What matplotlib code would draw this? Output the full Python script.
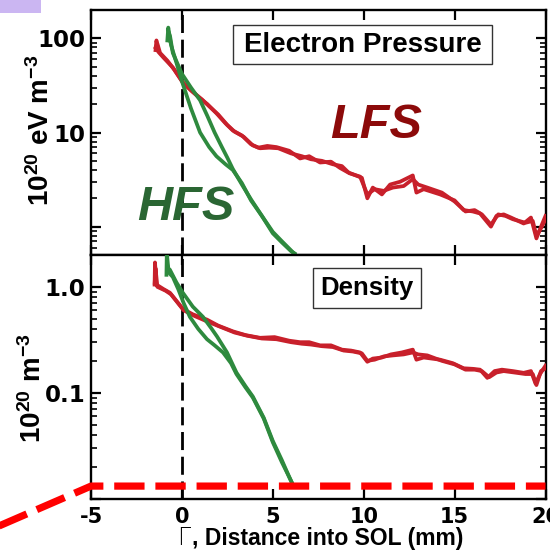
import matplotlib
matplotlib.use("Agg")
import matplotlib.pyplot as plt
from matplotlib.patches import Rectangle
from matplotlib.ticker import FixedLocator, FixedFormatter, LogLocator, NullFormatter

# ---------------- data ----------------
# Electron pressure (1e20 eV m^-3), LFS two traces
lfs_p_x1 = [-1.45, -1.4, -1.3, -1.0, -0.5, 0.0, 0.5, 1.0, 1.4, 1.9, 2.4, 2.8, 3.3, 3.8, 4.2, 4.7, 5.2, 5.9, 6.5,
            7.0, 7.6, 8.2, 8.7, 9.1, 9.9, 10.2, 10.5, 11.0, 11.45, 12.0, 12.7, 12.9, 13.3, 14.2, 15.0, 15.5, 16.0,
            16.4, 17.0, 17.3, 17.7, 18.1, 18.8, 19.2, 19.5, 19.8, 20.0]
lfs_p_y1 = [75, 95, 72, 62, 49, 35, 28, 23, 20, 16, 12.5, 10.5, 9.3, 7.5, 6.9, 7.2, 7.0, 6.4, 5.3,
            5.6, 4.8, 4.9, 4.2, 3.8, 3.3, 2.0, 2.6, 2.2, 2.8, 3.0, 3.5, 2.3, 2.5, 2.2, 1.9, 1.5, 1.45,
            1.38, 1.0, 1.3, 1.35, 1.25, 1.08, 1.25, 0.75, 1.05, 1.3]
lfs_p_x2 = [-1.45, -1.35, -1.2, -0.8, -0.4, 0.1, 0.6, 1.1, 1.5, 2.0, 2.5, 2.9, 3.4, 3.9, 4.3, 4.8, 5.3, 6.0, 6.6,
            7.1, 7.7, 8.3, 8.8, 9.2, 9.8, 10.2, 10.6, 11.1, 11.6, 12.2, 12.7, 13.0, 13.5, 14.3, 15.0, 15.6, 16.1,
            16.5, 17.0, 17.4, 17.8, 18.2, 18.9, 19.3, 19.5, 19.8, 20.0]
lfs_p_y2 = [80, 88, 70, 58, 46, 33, 27, 22.5, 19, 15.5, 12, 10.2, 9.0, 7.3, 6.8, 6.9, 6.8, 6.0, 5.6,
            5.2, 5.0, 4.6, 4.4, 3.7, 3.4, 2.2, 2.5, 2.4, 2.6, 2.7, 3.2, 2.8, 2.6, 2.3, 1.85, 1.45, 1.5,
            1.35, 1.05, 1.35, 1.3, 1.2, 1.1, 1.15, 0.8, 1.0, 1.2]

# HFS pressure, two traces
hfs_p_x1 = [-0.8, -0.75, -0.6, -0.3, 0.0, 0.5, 1.0, 1.5, 1.9, 2.4, 2.8, 3.3, 3.8, 4.4, 5.0, 5.5, 6.0, 6.2]
hfs_p_y1 = [95, 130, 85, 55, 35, 18, 10, 7.0, 5.6, 4.6, 4.0, 2.9, 1.9, 1.3, 0.85, 0.68, 0.55, 0.52]
hfs_p_x2 = [-0.75, -0.65, -0.5, 0.0, 0.5, 1.0, 1.4, 1.8, 2.2, 2.5, 2.8, 3.3, 3.8, 4.4, 5.0, 5.5, 6.0, 6.25]
hfs_p_y2 = [120, 105, 70, 42, 30, 22, 15, 10, 7.0, 5.4, 4.1, 2.8, 1.95, 1.3, 0.88, 0.7, 0.56, 0.5]

# Density (1e20 m^-3), LFS two traces
lfs_n_x1 = [-1.5, -1.48, -1.4, -1.0, -0.66, 0.05, 0.6, 1.38, 2.0, 2.8, 3.5, 4.3, 5.1, 5.9, 6.5, 7.0, 7.6, 8.2,
            8.8, 9.3, 9.8, 10.2, 10.5, 11.0, 11.5, 12.1, 12.7, 12.9, 13.3, 14.2, 14.9, 15.5, 16.0, 16.4, 16.8,
            17.2, 17.6, 18.2, 18.8, 19.2, 19.45, 19.7, 20.0]
lfs_n_y1 = [1.09, 1.7, 1.05, 0.95, 0.88, 0.62, 0.55, 0.49, 0.43, 0.38, 0.35, 0.33, 0.335, 0.31, 0.30, 0.30, 0.28,
            0.28, 0.255, 0.25, 0.24, 0.196, 0.21, 0.215, 0.23, 0.24, 0.255, 0.205, 0.215, 0.205, 0.19, 0.17,
            0.168, 0.165, 0.138, 0.16, 0.165, 0.16, 0.154, 0.16, 0.122, 0.15, 0.18]
lfs_n_x2 = [-1.5, -1.45, -1.35, -0.9, -0.6, 0.1, 0.7, 1.4, 2.1, 2.9, 3.6, 4.4, 5.2, 6.0, 6.6, 7.1, 7.7, 8.3,
            8.9, 9.4, 9.9, 10.2, 10.6, 11.1, 11.6, 12.2, 12.7, 13.0, 13.5, 14.3, 15.0, 15.6, 16.1, 16.5, 16.9,
            17.3, 17.7, 18.3, 18.9, 19.3, 19.5, 19.75, 20.0]
lfs_n_y2 = [1.05, 1.5, 1.0, 0.92, 0.85, 0.6, 0.53, 0.47, 0.42, 0.37, 0.345, 0.325, 0.32, 0.30, 0.29, 0.285,
            0.275, 0.27, 0.25, 0.245, 0.235, 0.2, 0.205, 0.22, 0.225, 0.23, 0.24, 0.23, 0.225, 0.2, 0.185,
            0.165, 0.165, 0.16, 0.14, 0.155, 0.16, 0.155, 0.15, 0.15, 0.118, 0.16, 0.17]

# HFS density, two traces
hfs_n_x1 = [-0.85, -0.83, -0.75, -0.66, -0.3, 0.05, 0.6, 1.16, 1.6, 1.93, 2.48, 3.0, 3.5, 3.9, 4.5, 5.0, 5.5,
            5.9, 6.15]
hfs_n_y1 = [1.3, 2.1, 1.5, 1.45, 1.1, 0.88, 0.65, 0.52, 0.41, 0.34, 0.24, 0.155, 0.115, 0.092, 0.058, 0.035,
            0.023, 0.016, 0.013]
hfs_n_x2 = [-0.8, -0.7, -0.5, -0.2, 0.1, 0.44, 0.9, 1.38, 1.8, 2.26, 2.7, 3.0, 3.5, 3.9, 4.5, 5.0, 5.5, 5.9, 6.1]
hfs_n_y2 = [1.6, 1.35, 1.24, 0.95, 0.7, 0.52, 0.40, 0.32, 0.28, 0.24, 0.19, 0.15, 0.112, 0.09, 0.057, 0.034,
            0.022, 0.016, 0.0135]

# red dashed reference line (density threshold) with off-axis leader
thr_x = [-11.1, -5.0, 20.0]
thr_y = [0.0046, 0.0131, 0.0131]

xticks = [-5, 0, 5, 10, 15, 20]
xticklabels = ["-5", "0", "5", "10", "15", "20"]
p_ticks = [1, 10, 100]
p_ticklabels = ["", "10", "100"]
n_ticks = [0.01, 0.1, 1.0]
n_ticklabels = ["", "0.1", "1.0"]

# ---------------- style ----------------
plt.rcParams['mathtext.fontset'] = 'custom'
plt.rcParams['mathtext.rm'] = 'Liberation Sans:bold'
plt.rcParams['mathtext.bf'] = 'Liberation Sans:bold'
plt.rcParams['mathtext.it'] = 'Liberation Sans:bold:italic'
plt.rcParams['axes.linewidth'] = 1.7

RED = '#c8202b'
GREEN = '#2e8a3e'

W, H = 550, 551
fig = plt.figure(figsize=(5.5, 5.51), dpi=100)

def fx(px):
    return px / W

def fy(py):
    return 1 - py / H

left, right = fx(91), fx(545.5)
top, mid, bot = fy(10), fy(255), fy(498.5)
ax1 = fig.add_axes([left, mid, right - left, top - mid])
ax2 = fig.add_axes([left, bot, right - left, mid - bot])

for ax in (ax1, ax2):
    ax.set_yscale('log')
    ax.set_xlim(-5, 20)
    ax.axvline(0, color='black', lw=2.0, dashes=(6.5, 2.4), zorder=1)
    ax.xaxis.set_major_locator(FixedLocator(xticks))
    ax.tick_params(which='both', direction='in', top=True, right=True)
    ax.tick_params(which='major', length=7.5, width=1.6)
    ax.tick_params(which='minor', length=4, width=1.2)
    ax.tick_params(axis='y', which='both', labelright=False)
    ax.yaxis.set_minor_locator(LogLocator(base=10, subs=[2, 3, 4, 5, 6, 7, 8, 9]))
    ax.yaxis.set_minor_formatter(NullFormatter())

# top panel
ax1.set_ylim(0.5, 200)
for x, y in ((lfs_p_x1, lfs_p_y1), (lfs_p_x2, lfs_p_y2)):
    ax1.plot(x, y, color=RED, lw=2.7, zorder=3)
for x, y in ((hfs_p_x1, hfs_p_y1), (hfs_p_x2, hfs_p_y2)):
    ax1.plot(x, y, color=GREEN, lw=2.7, zorder=4)
ax1.yaxis.set_major_locator(FixedLocator(p_ticks))
ax1.yaxis.set_major_formatter(FixedFormatter(p_ticklabels))
ax1.tick_params(axis='x', labelbottom=False)

# bottom panel
ax2.set_ylim(0.01, 2.0)
for x, y in ((lfs_n_x1, lfs_n_y1), (lfs_n_x2, lfs_n_y2)):
    ax2.plot(x, y, color=RED, lw=2.7, zorder=3)
for x, y in ((hfs_n_x1, hfs_n_y1), (hfs_n_x2, hfs_n_y2)):
    ax2.plot(x, y, color=GREEN, lw=2.7, zorder=4)
ax2.yaxis.set_major_locator(FixedLocator(n_ticks))
ax2.yaxis.set_major_formatter(FixedFormatter(n_ticklabels))
ax2.set_xticklabels(xticklabels)
ax2.plot(thr_x, thr_y, color='#ff0000', lw=5.2, dashes=(4.2, 1.5), dash_capstyle='butt',
         clip_on=False, zorder=5)

for ax in (ax1, ax2):
    for lab in ax.get_yticklabels():
        lab.set_fontfamily('DejaVu Sans')
        lab.set_fontweight('bold')
        lab.set_fontsize(16.5)
    ax.tick_params(axis='y', pad=4)
for lab in ax2.get_xticklabels():
    lab.set_fontfamily('DejaVu Sans')
    lab.set_fontweight('bold')
    lab.set_fontsize(15)
ax2.tick_params(axis='x', pad=6)

# boxes with titles
fig.add_artist(Rectangle((fx(233), fy(64)), fx(492) - fx(233), fy(25) - fy(64), transform=fig.transFigure,
                         fill=True, facecolor='white', edgecolor='#333333', lw=1.0, zorder=10))
fig.text(fx(362.5), fy(44.5), 'Electron Pressure', ha='center', va='center', family='Liberation Sans',
         weight='bold', fontsize=20, zorder=11)
fig.add_artist(Rectangle((fx(313), fy(308)), fx(421) - fx(313), fy(268) - fy(308), transform=fig.transFigure,
                         fill=True, facecolor='white', edgecolor='#333333', lw=1.0, zorder=10))
fig.text(fx(367), fy(288), 'Density', ha='center', va='center', family='Liberation Sans',
         weight='bold', fontsize=18.5, zorder=11)

# LFS / HFS labels
fig.text(fx(330), fy(138), 'LFS', ha='left', va='baseline', family='Liberation Sans', weight='bold',
         style='italic', fontsize=35, color='#8c0a0a')
fig.text(fx(137), fy(220), 'HFS', ha='left', va='baseline', family='Liberation Sans', weight='bold',
         style='italic', fontsize=35, color='#2a6633')

# y labels
fig.text(fx(41), fy(130), r'10$^{20}$ eV m$^{-3}$', rotation=90, ha='center', va='center',
         family='Liberation Sans', weight='bold', fontsize=20)
fig.text(fx(33), fy(388), r'10$^{20}$ m$^{-3}$', rotation=90, ha='center', va='center',
         family='Liberation Sans', weight='bold', fontsize=20)

# x label
fig.text(fx(177), fy(545), '\u0393', ha='left', va='baseline', family='DejaVu Sans', weight='light',
         fontsize=17)
fig.text(fx(192), fy(545), ', Distance into SOL (mm)', ha='left', va='baseline', family='Liberation Sans',
         weight='bold', fontsize=16.5)

# lavender corner patch
fig.add_artist(Rectangle((0, fy(13)), fx(41), 13 / H, transform=fig.transFigure, facecolor='#cbb6f2',
                         edgecolor='none'))

fig.savefig('out.png', dpi=100)
